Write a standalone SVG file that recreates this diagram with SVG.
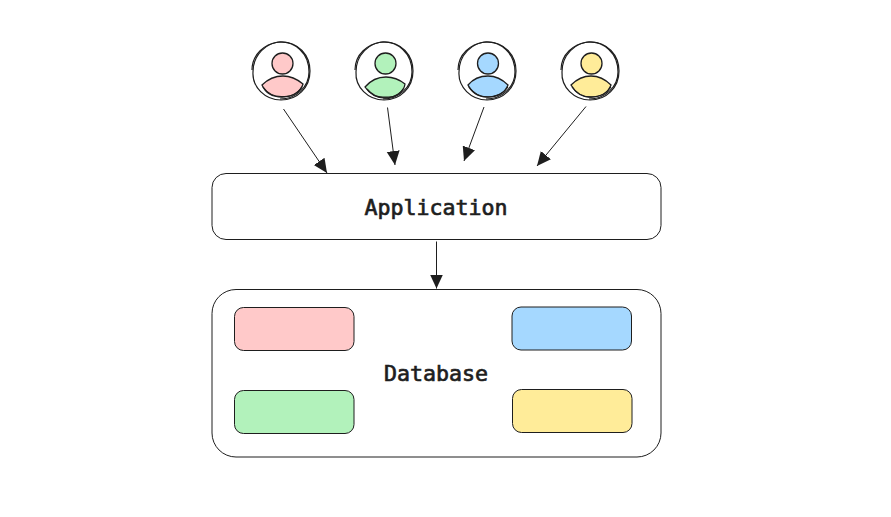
<svg xmlns="http://www.w3.org/2000/svg" width="891" height="517" viewBox="0 0 891 517">
<defs>
<marker id="arrow" markerUnits="userSpaceOnUse" markerWidth="15" markerHeight="14" refX="14" refY="6.500" orient="auto"><path d="M0 0L14 6.500L0 13Z" fill="#1e1e1e"/></marker>
<g id="person-lines" fill="none">
<path d="M-28 1C-28 -16 -15 -29 1 -29C17 -29 29 -16 29 0C29 17 16 29 0 29C-16 29 -29 16 -28 1Z"/>
<path d="M-29 -1C-29 -17 -16 -27 -3 -29C14 -30 28 -18 28 1C28 16 15 28 -1 28"/>
</g>
</defs>
<style>
.bg{fill:#fff}
.box{fill:#fff;stroke:#1e1e1e;stroke-width:1}
.cell{stroke:#1e1e1e;stroke-width:1}
.ring{fill:none;stroke:#1e1e1e;stroke-width:1.200}
.ink{stroke:#1e1e1e;stroke-width:1.300}
.label{font-family:"DejaVu Sans Mono","Liberation Mono",monospace;font-size:21.6px;font-weight:400;stroke:#1e1e1e;stroke-width:.7;fill:#1e1e1e;text-anchor:middle}
.conn{fill:none;stroke:#1e1e1e;stroke-width:1;marker-end:url(#arrow)}
.pink{fill:#ffc9c9}.green{fill:#b2f2bb}.blue{fill:#a5d8ff}.yellow{fill:#ffec99}
</style>
<rect class="bg" width="891" height="517"/>
<g id="user-1">
<use href="#person-lines" x="281" y="71" class="ring"/>
<circle class="pink ink" cx="282.500" cy="63.500" r="10.500"/>
<path class="pink ink" d="M262 85C268 79 275 76 283 76C291 76 297 79 303 84C301 92 292 97 282 97C272 97 265 92 262 85Z"/>
<path class="ring" d="M263 87C268 94 275 97 283 96.500C291 97 298 93 302 87"/>
</g>
<g id="user-2">
<use href="#person-lines" x="384" y="71" class="ring"/>
<circle class="green ink" cx="385.500" cy="63.500" r="10.500"/>
<path class="green ink" d="M365 87C371 80 378 77 386 77C394 77 400 80 405 84C404 92 395 98 385 98C376 98 369 93 365 87Z"/>
<path class="ring" d="M367 89C372 95 379 98 386 97C394 98 400 94 404 88"/>
</g>
<g id="user-3">
<use href="#person-lines" x="487" y="71" class="ring"/>
<circle class="blue ink" cx="488" cy="63.500" r="10.500"/>
<path class="blue ink" d="M468 85C473 79 480 76 488 76C496 76 503 80 508 85C505 93 497 97 487 97C478 97 471 92 468 85Z"/>
<path class="ring" d="M469 87C474 94 481 97 488 97C496 97 504 93 508 87"/>
</g>
<g id="user-4">
<use href="#person-lines" x="590" y="71" class="ring"/>
<circle class="yellow ink" cx="591.500" cy="63.500" r="10.500"/>
<path class="yellow ink" d="M571 85C577 79 584 76 591 76C599 76 606 80 611 85C608 93 600 97 591 97C582 97 575 92 571 85Z"/>
<path class="ring" d="M572 87C577 94 584 98 592 97C600 97 607 93 611 87"/>
</g>
<g id="application">
<rect class="box" x="212" y="173.500" width="449" height="66" rx="14"/>
<text class="label" x="436" y="215">Application</text>
</g>
<g id="database">
<rect class="box" x="212" y="289.500" width="449" height="167.500" rx="24"/>
<text class="label" x="436" y="381">Database</text>
</g>
<g id="record-pink"><rect class="cell pink" x="234.500" y="307.500" width="119.500" height="43" rx="9"/></g>
<g id="record-blue"><rect class="cell blue" x="512" y="307" width="119.500" height="43" rx="9"/></g>
<g id="record-green"><rect class="cell green" x="234.500" y="390.500" width="119.500" height="43" rx="9"/></g>
<g id="record-yellow"><rect class="cell yellow" x="512.500" y="389.500" width="119.500" height="43" rx="9"/></g>
<g id="connectors">
<path class="conn" d="M283.500 109L327 173"/>
<path class="conn" d="M387.500 107.500L395 165"/>
<path class="conn" d="M484 107L464 161"/>
<path class="conn" d="M586 106.500L537 166"/>
<path class="conn" d="M436.500 241.500L436.500 288.500"/>
</g>
</svg>
